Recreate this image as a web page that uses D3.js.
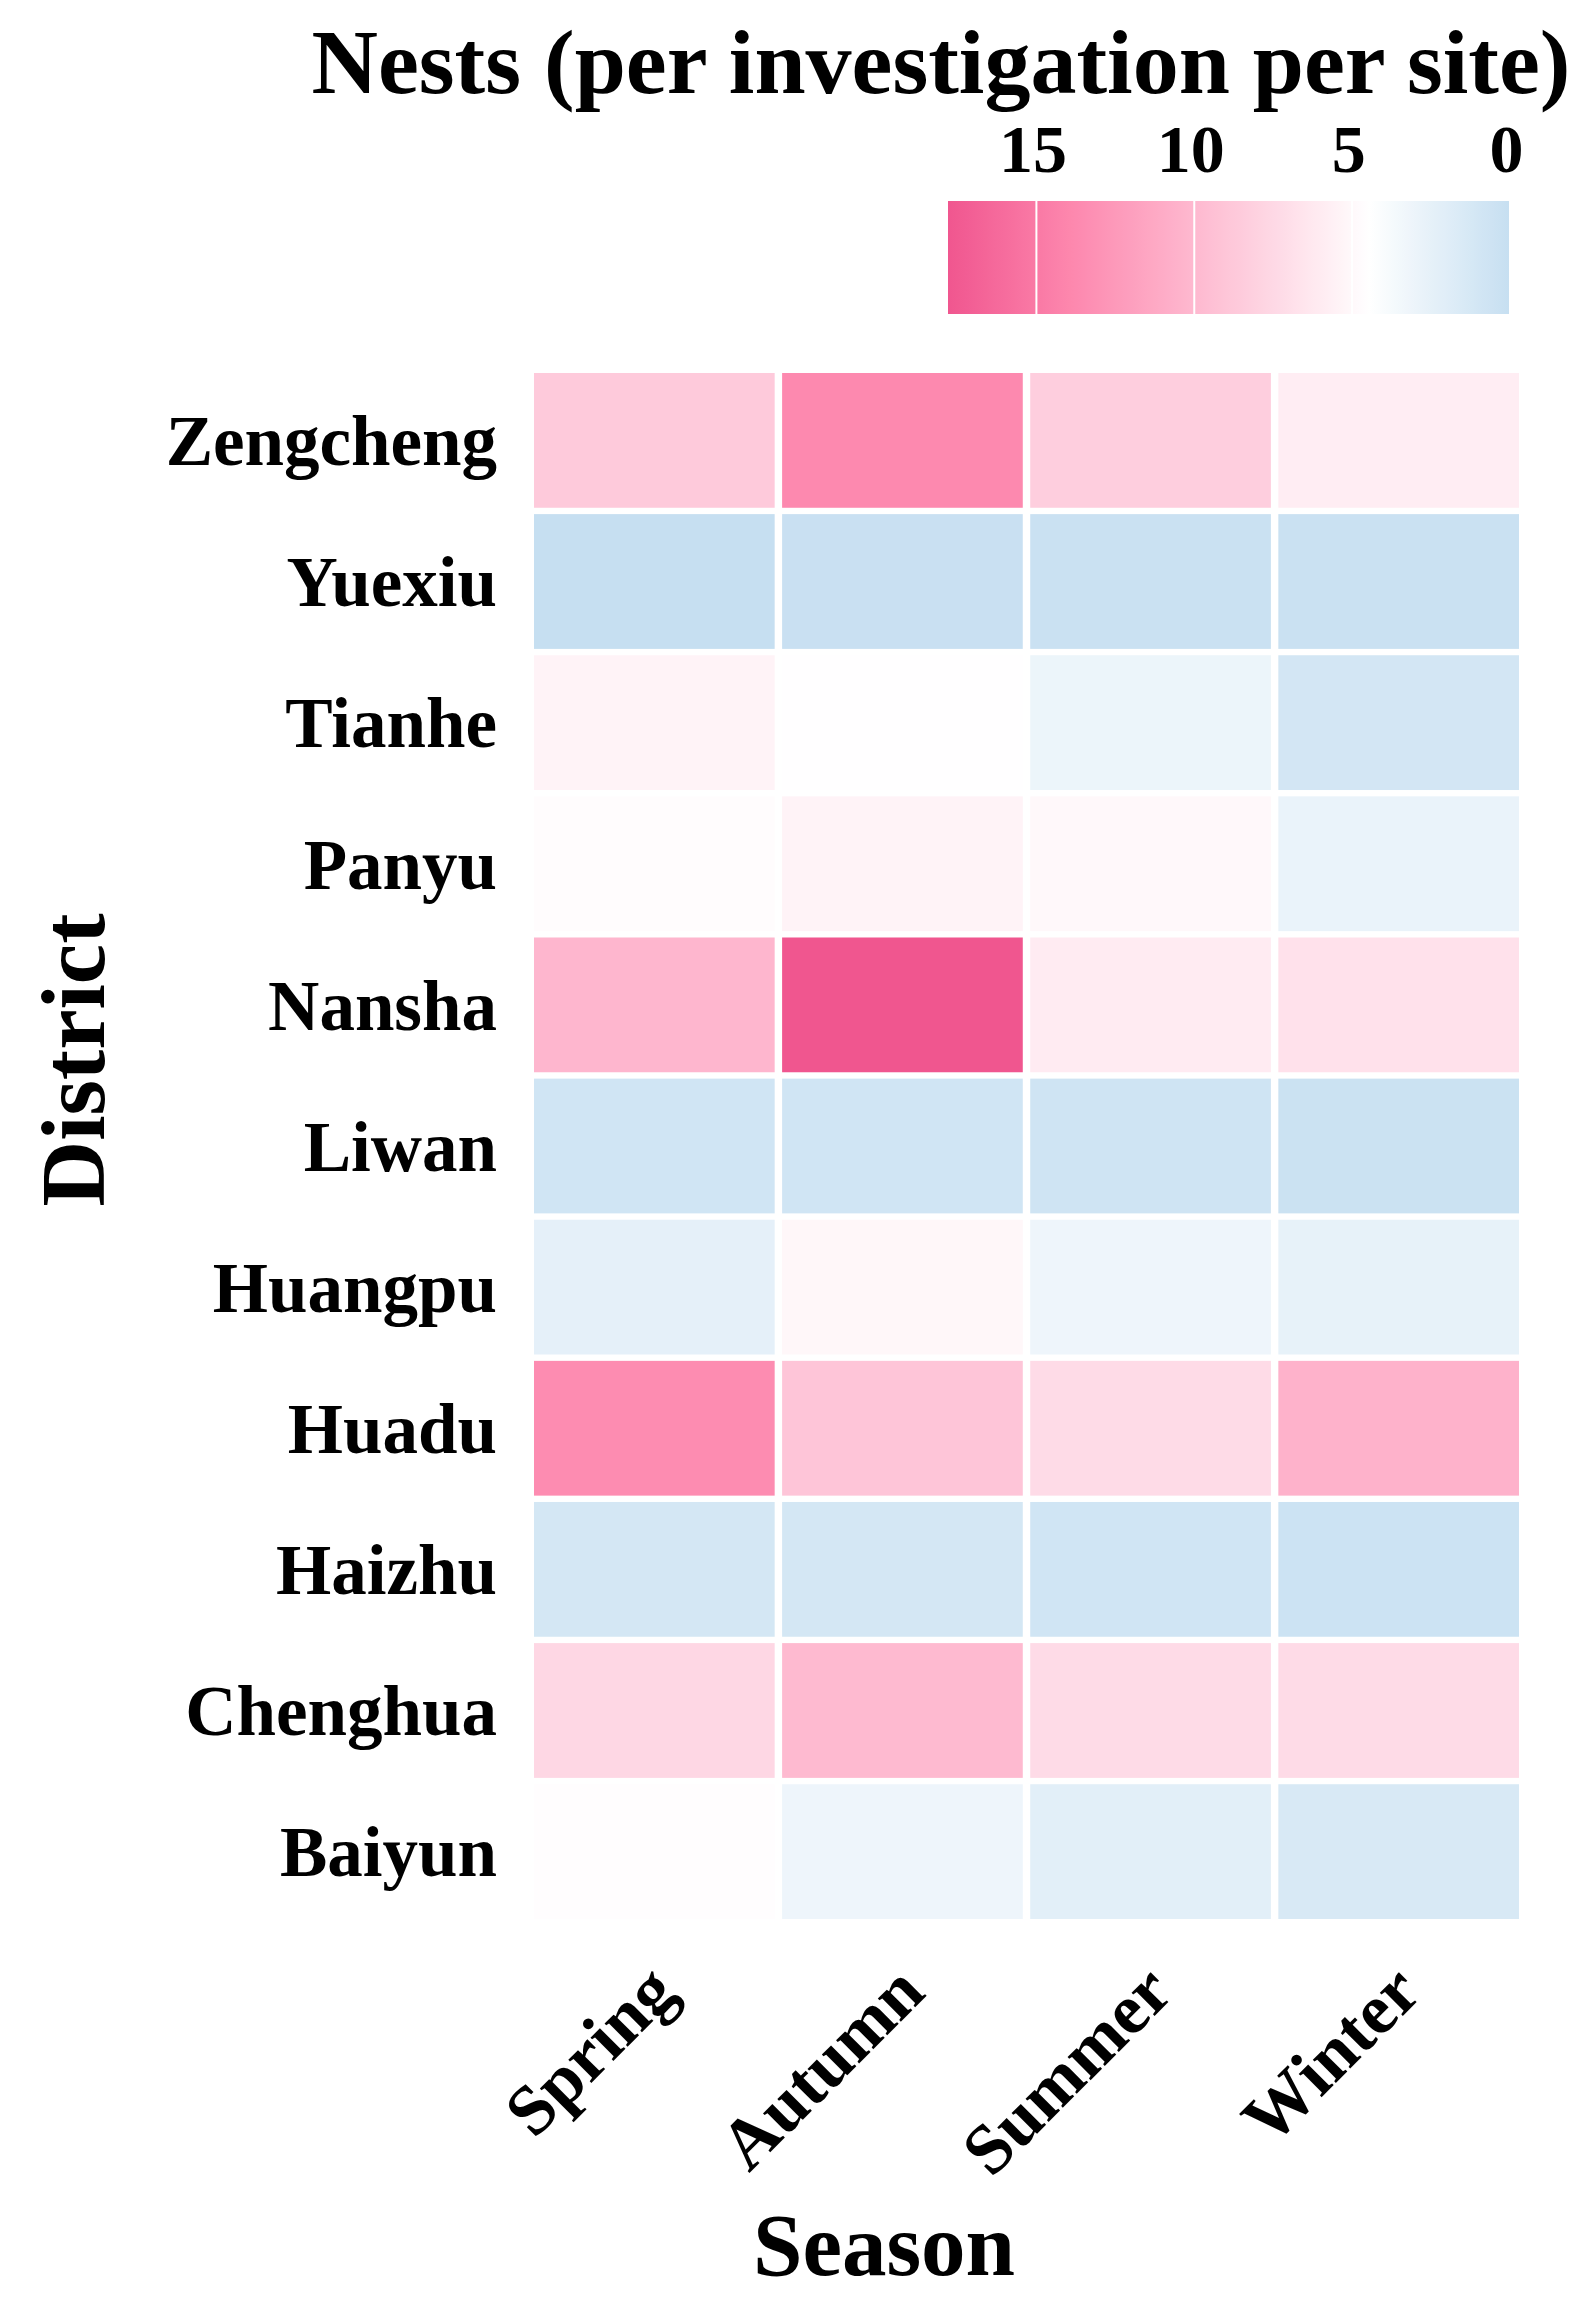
<!DOCTYPE html>
<html>
<head>
<meta charset="utf-8">
<script src="https://cdn.jsdelivr.net/npm/d3@7"></script>
<style>
  html, body { margin: 0; padding: 0; background: #ffffff; }
  svg { display: block; }
  text { font-family: "Liberation Serif", "Times New Roman", serif; font-weight: bold; fill: #000; }
</style>
</head>
<body>
<svg id="chart" width="1582" height="2306"></svg>
<script>
// ---- Data ----
const districts = ["Zengcheng", "Yuexiu", "Tianhe", "Panyu", "Nansha", "Liwan", "Huangpu", "Huadu", "Haizhu", "Chenghua", "Baiyun"];
const seasons = ["Spring", "Autumn", "Summer", "Winter"];
const springValues = [8.6, 0.0, 5.4, 4.7, 10.2, 0.8, 2.4, 13.5, 1.1, 7.6, 4.6];
const autumnValues = [13.8, 0.2, 4.5, 5.4, 17.8, 0.8, 5.1, 9.0, 1.1, 9.9, 3.1];
const summerValues = [8.3, 0.3, 3.0, 5.0, 6.0, 0.7, 3.1, 7.3, 0.8, 7.3, 2.2];
const winterValues = [5.9, 0.3, 1.0, 2.8, 6.8, 0.4, 2.6, 10.5, 0.5, 7.3, 1.4];
const legendTicks = [15, 10, 5, 0];
const titleText = "Nests (per investigation per site)";
const xTitle = "Season";
const yTitle = "District";

const seriesBySeason = { Spring: springValues, Autumn: autumnValues, Summer: summerValues, Winter: winterValues };
const cells = [];
seasons.forEach(s => districts.forEach((d, i) => cells.push({ season: s, district: d, value: seriesBySeason[s][i] })));

const svg = d3.select("#chart");

const vmin = d3.min(cells, c => c.value);
const vmax = d3.max(cells, c => c.value);
const mid = 4.46;
const color = d3.scaleLinear()
  .domain([vmin, mid, 14, vmax])
  .range(["#c6dff1", "#ffffff", "#fd86ad", "#f0568f"])
  .interpolate(d3.interpolateRgb);

// ---- Heatmap ----
const x = d3.scaleBand().domain(seasons).range([534, 1519]).paddingInner(0.03).paddingOuter(0);
const y = d3.scaleBand().domain(districts).range([373, 1919]).paddingInner(0.045).paddingOuter(0);

svg.append("g").selectAll("rect")
  .data(cells)
  .join("rect")
  .attr("x", d => x(d.season))
  .attr("y", d => y(d.district))
  .attr("width", x.bandwidth())
  .attr("height", y.bandwidth())
  .attr("fill", d => color(d.value));

// Y axis labels
const yAxis = d3.axisLeft(y).tickSize(0).tickPadding(0);
const gy = svg.append("g").attr("transform", "translate(497,0)").call(yAxis);
gy.select(".domain").remove();
gy.selectAll("text")
  .attr("font-size", 71)
  .attr("font-family", "Liberation Serif, Times New Roman, serif")
  .attr("font-weight", "bold")
  .attr("fill", "#000")
  .attr("dy", "0.35em");

// X axis labels (rotated)
const xAxis = d3.axisBottom(x).tickSize(0).tickPadding(0);
const gx = svg.append("g").attr("transform", "translate(0,1995)").call(xAxis);
gx.select(".domain").remove();
gx.selectAll("text")
  .attr("font-size", 71)
  .attr("font-family", "Liberation Serif, Times New Roman, serif")
  .attr("font-weight", "bold")
  .attr("fill", "#000")
  .attr("text-anchor", "end")
  .attr("dy", 0)
  .attr("y", 0)
  .attr("transform", "translate(25,0) rotate(-45)");

// Axis titles
svg.append("text")
  .attr("x", 884).attr("y", 2275)
  .attr("text-anchor", "middle")
  .attr("font-size", 89)
  .text(xTitle);

svg.append("text")
  .attr("transform", "translate(104,1060) rotate(-90)")
  .attr("text-anchor", "middle")
  .attr("font-size", 91)
  .text(yTitle);

// ---- Legend ----
svg.append("text")
  .attr("x", 941).attr("y", 93)
  .attr("text-anchor", "middle")
  .attr("font-size", 92)
  .text(titleText);

const lx = d3.scaleLinear().domain([vmin, vmax]).range([1510, 948]);
const defs = svg.append("defs");
const grad = defs.append("linearGradient").attr("id", "lg")
  .attr("x1", "0%").attr("x2", "100%").attr("y1", "0%").attr("y2", "0%");
const nStops = 60;
d3.range(nStops + 1).forEach(i => {
  const v = vmax - (vmax - vmin) * i / nStops;
  grad.append("stop").attr("offset", (100 * i / nStops) + "%").attr("stop-color", color(v));
});
svg.append("rect")
  .attr("x", lx(vmax)).attr("y", 201)
  .attr("width", lx(vmin) - lx(vmax)).attr("height", 113)
  .attr("fill", "url(#lg)");

const lAxis = d3.axisTop(lx).tickValues(legendTicks).tickSize(0).tickPadding(0);
const gl = svg.append("g").attr("transform", "translate(-4,172)").call(lAxis);
gl.select(".domain").remove();
gl.selectAll("text")
  .attr("font-size", 68)
  .attr("font-family", "Liberation Serif, Times New Roman, serif")
  .attr("font-weight", "bold")
  .attr("fill", "#000")
  .attr("dy", 0);

svg.append("g").selectAll("line")
  .data(legendTicks)
  .join("line")
  .attr("x1", d => lx(d)).attr("x2", d => lx(d))
  .attr("y1", 201).attr("y2", 314)
  .attr("stroke", "#ffffff").attr("stroke-width", 2);
</script>
</body>
</html>
